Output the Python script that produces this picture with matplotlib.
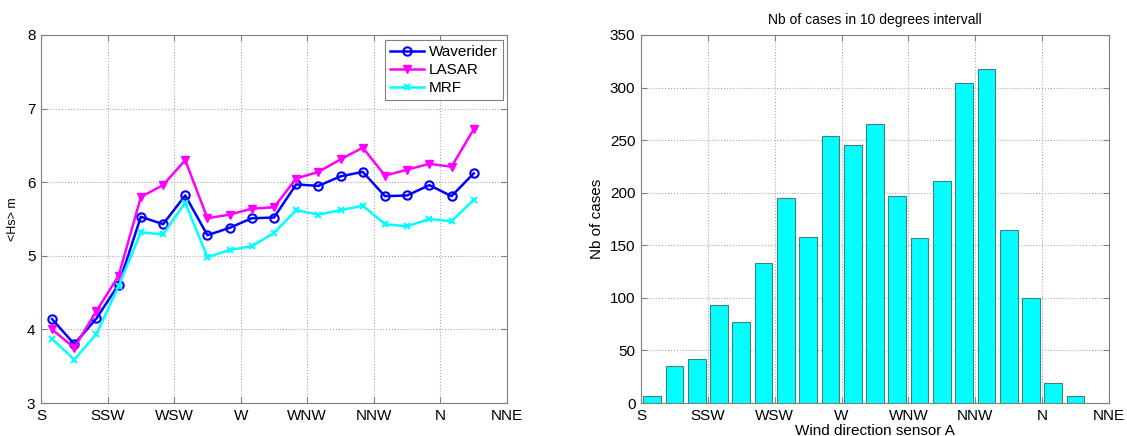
import numpy as np
import matplotlib
matplotlib.use("Agg")
import matplotlib.pyplot as plt

plt.rcParams['font.family'] = ['Liberation Sans', 'DejaVu Sans']

directions = [185, 195, 205, 215, 225, 235, 245, 255, 265, 275,
              285, 295, 305, 315, 325, 335, 345, 355, 365, 375]
waverider = [4.14, 3.80, 4.15, 4.61, 5.53, 5.43, 5.82, 5.28, 5.38, 5.51,
             5.52, 5.97, 5.95, 6.08, 6.14, 5.81, 5.82, 5.96, 5.81, 6.12]
lasar = [4.00, 3.75, 4.25, 4.73, 5.80, 5.96, 6.30, 5.51, 5.56, 5.64,
         5.66, 6.05, 6.14, 6.31, 6.47, 6.09, 6.17, 6.25, 6.21, 6.72]
mrf = [3.87, 3.59, 3.94, 4.59, 5.32, 5.29, 5.72, 4.98, 5.08, 5.13,
       5.31, 5.62, 5.56, 5.62, 5.68, 5.43, 5.40, 5.50, 5.47, 5.76]
counts = [7, 35, 42, 93, 77, 133, 195, 158, 254, 245,
          265, 197, 157, 211, 304, 318, 165, 100, 19, 7]
tick_pos = [180, 210, 240, 270, 300, 330, 360, 390]
tick_labels = ['S', 'SSW', 'WSW', 'W', 'WNW', 'NNW', 'N', 'NNE']

fig = plt.figure(figsize=(11.27, 4.36), dpi=100)
ax1 = fig.add_axes([41/1127, 33/436, 466/1127, 368/436])
ax2 = fig.add_axes([641/1127, 33/436, 468/1127, 368/436])

frame_col = '#808080'

def style(ax):
    for s in ax.spines.values():
        s.set_color(frame_col)
        s.set_linewidth(0.8)
    ax.tick_params(direction='in', length=4, color=frame_col, labelsize=11,
                   top=True, right=True, pad=4)
    ax.grid(True, linestyle=':', color='#a8a8a8', linewidth=0.8)
    ax.set_axisbelow(True)
    ax.set_xticks(tick_pos)
    ax.set_xticklabels(tick_labels)
    ax.set_xlim(180, 390)

style(ax1)
ax1.plot(directions, waverider, color='#0000ff', lw=1.8, marker='o', ms=6,
         mfc='none', mec='#0000ff', mew=1.5, label='Waverider')
ax1.plot(directions, lasar, color='#ff00ff', lw=1.8, marker='v', ms=6,
         mfc='#ff00ff', mec='#ff00ff', label='LASAR')
ax1.plot(directions, mrf, color='#00ffff', lw=1.8, marker='x', ms=5,
         mew=1.5, label='MRF')
ax1.set_ylim(3, 8)
ax1.set_yticks([3, 4, 5, 6, 7, 8])
ax1.set_ylabel('<Hs> m', fontsize=9, labelpad=6)
leg = ax1.legend(loc='upper right', fontsize=11, frameon=True, fancybox=False,
                 edgecolor='#606060', handlelength=2.2, borderpad=0.35,
                 labelspacing=0.25, handletextpad=0.3, borderaxespad=0,
                 bbox_to_anchor=(0.991, 0.986))
leg.get_frame().set_linewidth(0.8)

style(ax2)
ax2.bar(directions, counts, width=8, color='#00ffff', edgecolor='#408080',
        linewidth=0.8, zorder=2)
ax2.set_ylim(0, 350)
ax2.set_yticks(np.arange(0, 351, 50))
ax2.set_ylabel('Nb of cases', fontsize=11, labelpad=4)
ax2.set_xlabel('Wind direction sensor A', fontsize=11, labelpad=1)
ax2.set_title('Nb of cases in 10 degrees intervall', fontsize=10, pad=8)

fig.savefig('out.png', dpi=100)
